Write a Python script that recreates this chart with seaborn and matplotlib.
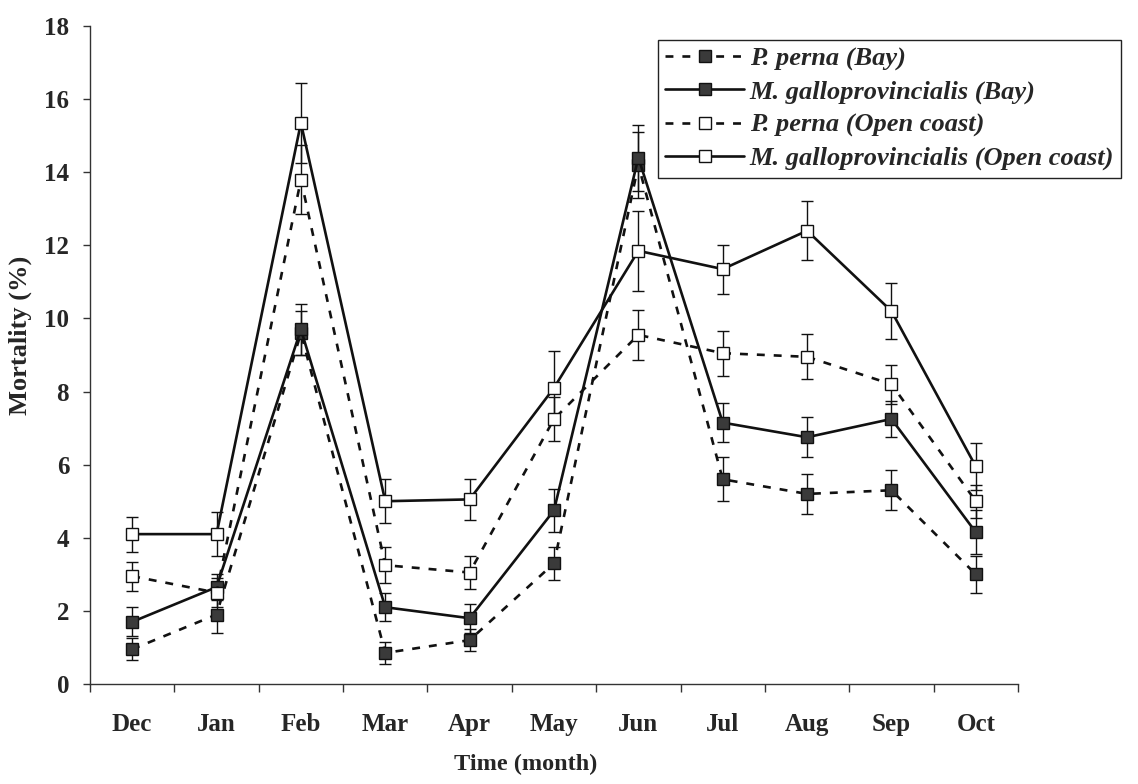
import numpy as np
import pandas as pd
import matplotlib
matplotlib.use("Agg")
import matplotlib.pyplot as plt
import seaborn as sns
from matplotlib.ticker import FixedLocator, NullFormatter, FixedFormatter

# Monthly mortality (%) with standard errors
months = ["Dec", "Jan", "Feb", "Mar", "Apr", "May", "Jun", "Jul", "Aug", "Sep", "Oct"]

perna_bay = [0.95, 1.9, 9.6, 0.85, 1.2, 3.3, 14.2, 5.6, 5.2, 5.3, 3.0]
perna_bay_se = [0.3, 0.5, 0.6, 0.3, 0.3, 0.45, 0.9, 0.6, 0.55, 0.55, 0.5]

gallo_bay = [1.7, 2.65, 9.7, 2.1, 1.8, 4.75, 14.4, 7.15, 6.75, 7.25, 4.15]
gallo_bay_se = [0.4, 0.35, 0.7, 0.38, 0.4, 0.58, 0.9, 0.53, 0.55, 0.5, 0.6]

perna_open = [2.95, 2.5, 13.8, 3.25, 3.05, 7.25, 9.55, 9.05, 8.95, 8.2, 5.0]
perna_open_se = [0.4, 0.4, 0.95, 0.5, 0.45, 0.6, 0.68, 0.62, 0.62, 0.53, 0.45]

gallo_open = [4.1, 4.1, 15.35, 5.0, 5.05, 8.1, 11.85, 11.35, 12.4, 10.2, 5.95]
gallo_open_se = [0.48, 0.6, 1.1, 0.6, 0.57, 1.0, 1.1, 0.67, 0.8, 0.76, 0.65]

series_names = [
    "P. perna (Bay)",
    "M. galloprovincialis (Bay)",
    "P. perna (Open coast)",
    "M. galloprovincialis (Open coast)",
]
series_values = [perna_bay, gallo_bay, perna_open, gallo_open]
series_errors = [perna_bay_se, gallo_bay_se, perna_open_se, gallo_open_se]

# Long-form table for seaborn
rows = []
for name, vals, errs in zip(series_names, series_values, series_errors):
    for i, (v, e) in enumerate(zip(vals, errs)):
        rows.append({"series": name, "month": i, "mortality": v, "se": e})
df = pd.DataFrame(rows)

sns.set_style("white")
plt.rcParams["font.family"] = ["Liberation Serif", "DejaVu Serif"]

fig = plt.figure(figsize=(11.38, 7.84), dpi=100)
ax = fig.add_axes([90 / 1138, 1 - 684 / 784, 928 / 1138, 658 / 784])

dark = "#111111"
fill_dark = "#3a3a3a"
styles = {
    "P. perna (Bay)": dict(dashes=(3, 3.4), mfc=fill_dark),
    "M. galloprovincialis (Bay)": dict(dashes="", mfc=fill_dark),
    "P. perna (Open coast)": dict(dashes=(3, 3.4), mfc="white"),
    "M. galloprovincialis (Open coast)": dict(dashes="", mfc="white"),
}

# Error bars first, so lines and markers sit on top
for name in series_names:
    sub = df[df["series"] == name]
    ax.errorbar(sub["month"], sub["mortality"], yerr=sub["se"], fmt="none",
                ecolor=dark, elinewidth=1.0, capsize=4.5, capthick=1.0, zorder=2)

sns.lineplot(
    data=df, x="month", y="mortality", hue="series", style="series",
    hue_order=series_names, style_order=series_names,
    palette={n: dark for n in series_names},
    dashes={n: styles[n]["dashes"] for n in series_names},
    markers={n: "s" for n in series_names},
    markersize=8.5, linewidth=1.9, ax=ax, legend=False, zorder=3,
)

# Marker fills: dark for Bay, white for Open coast
for line, name in zip(ax.get_lines()[-4:], series_names):
    line.set_markerfacecolor(styles[name]["mfc"])
    line.set_markeredgecolor(dark)
    line.set_markeredgewidth(1.0)

ax.set_xlim(-0.5, len(months) - 0.5)
ax.set_ylim(0, 18)

# Category axis: tick marks between months, labels centred on months
ax.xaxis.set_major_locator(FixedLocator(np.arange(-0.5, len(months), 1.0)))
ax.xaxis.set_major_formatter(NullFormatter())
ax.xaxis.set_minor_locator(FixedLocator(np.arange(len(months))))
ax.xaxis.set_minor_formatter(FixedFormatter(months))
ax.tick_params(axis="x", which="major", direction="out", length=6, width=1, color="#333333", bottom=True)
ax.tick_params(axis="x", which="minor", length=0, pad=21, labelsize=18, bottom=True)
ax.set_yticks(np.arange(0, 19, 2))
ax.tick_params(axis="y", which="major", direction="out", length=5, width=1, color="#333333",
               pad=10, labelsize=18, left=True)
for lab in ax.get_xticklabels(minor=True) + ax.get_yticklabels():
    lab.set_fontweight("bold")

for side in ["top", "right"]:
    ax.spines[side].set_visible(False)
for side in ["left", "bottom"]:
    ax.spines[side].set_color("#333333")
    ax.spines[side].set_linewidth(1.0)

ax.set_xlabel("Time (month)", fontsize=17.5, fontweight="bold")
ax.set_ylabel("Mortality (%)", fontsize=19, fontweight="bold")
ax.xaxis.set_label_coords(0.469, -0.106)
ax.yaxis.set_label_coords(-0.062, 0.53)

# Legend built from the drawn lines
handles = ax.get_lines()[-4:]
leg = fig.legend(
    handles, series_names, loc="upper left",
    bbox_to_anchor=(658 / 1138, 1 - 40 / 784), bbox_transform=fig.transFigure,
    frameon=True, fancybox=False, edgecolor="#222222", framealpha=1,
    prop={"family": "Liberation Serif", "style": "italic", "weight": "bold", "size": 19},
    handlelength=3.0, handletextpad=0.2, labelspacing=0.35, borderpad=0.27,
    borderaxespad=0,
)
leg.get_frame().set_linewidth(1.0)

fig.savefig("out.png", dpi=100, facecolor="white")
